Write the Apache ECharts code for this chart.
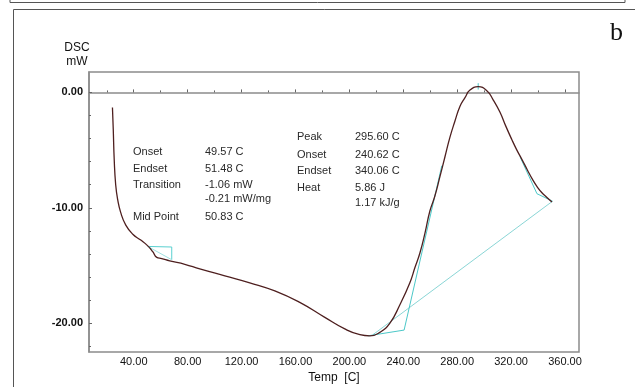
<!DOCTYPE html>
<html>
<head>
<meta charset="utf-8">
<script src="https://cdn.jsdelivr.net/npm/echarts@6/dist/echarts.min.js"></script>
<style>
  html, body { margin: 0; padding: 0; background: #fff; }
  #chart { width: 635px; height: 387px; }
</style>
</head>
<body>
<div id="chart"></div>
<script>
// DSC heating trace: temperature (C) and heat flow (mW)
const curveTemp = [24.2, 24.8, 25.5, 26.6, 28.1, 30.3, 34.1, 39.3, 45.2, 50.4, 54.1, 57.1, 60.8, 66.7,
  77.9, 89.0, 107.6, 126.1, 144.7, 163.2, 181.8, 196.6, 207.8, 215.2, 222.6, 230.1, 237.5,
  244.9, 248.6, 252.4, 256.1, 259.7, 263.4, 267.2, 270.9, 274.6, 278.3, 282.1, 285.8, 289.5,
  295.6, 302.0, 306.5, 311.7, 316.0, 320.6, 324.3, 328.0, 332.0, 336.2, 339.5, 342.9, 346.6, 350.3];
const curveDsc = [-1.3, -3.2, -5.8, -8.0, -9.3, -10.4, -11.5, -12.3, -12.8, -13.3, -13.8, -14.3, -14.4, -14.6,
  -14.9, -15.3, -15.9, -16.5, -17.2, -18.2, -19.5, -20.5, -21.0, -21.1, -20.8, -20.0, -18.4,
  -16.5, -15.2, -13.9, -12.2, -10.3, -9.0, -7.3, -5.6, -3.9, -2.5, -1.2, -0.45, 0.2,
  0.5, 0.15, -0.6, -1.7, -2.9, -4.1, -5.0, -5.8, -6.7, -7.6, -8.2, -8.7, -9.1, -9.5];

// Analysis construction lines
const glassStep = [[50.4, -13.35], [68.2, -13.4], [68.2, -14.5]];
const glassDiagonal = [[50.4, -13.35], [68.2, -14.5]];
const peakBaseline = [[217.5, -21.0], [351.1, -9.4]];
const onsetTangent = [[213.7, -21.1], [240.62, -20.6], [268.6, -6.35]];
const endsetTangent = [[326.6, -5.57], [339.2, -8.78], [350.3, -9.4]];
const peakMarker = [[295.6, 0.8], [295.6, 0.25]];

// Axis ticks
const xMajorTicks = [40, 80, 120, 160, 200, 240, 280, 320, 360];
const xMinorTicks = [20, 60, 100, 140, 180, 220, 260, 300, 340];
const yMajorTicks = [0, -10, -20];
const yMinorTicks = [-2, -4, -6, -8, -12, -14, -16, -18, -22];

// Result annotations
const glassLabels = ['Onset', 'Endset', 'Transition', '', 'Mid Point'];
const glassValues = ['49.57 C', '51.48 C', '-1.06 mW', '-0.21 mW/mg', '50.83 C'];
const peakLabels = ['Peak', 'Onset', 'Endset', 'Heat', ''];
const peakValues = ['295.60 C', '240.62 C', '340.06 C', '5.86 J', '1.17 kJ/g'];

const FONT = '"Liberation Sans", Arial, sans-serif';
const curveData = curveTemp.map((t, i) => [t, curveDsc[i]]);

const chart = echarts.init(document.getElementById('chart'));

function textItem(x, y, txt, extra) {
  return Object.assign({
    type: 'text', x: x, y: y,
    style: { text: txt, font: '11px ' + FONT, fill: '#2a2a2a', textVerticalAlign: 'middle' }
  }, extra || {});
}

const graphics = [
  // surrounding frames
  { type: 'polyline', shape: { points: [[10, 0], [10, 2.5], [625, 2.5], [625, 0]] },
    style: { stroke: '#555', lineWidth: 1, fill: null } },
  { type: 'polyline', shape: { points: [[13.5, 400], [13.5, 9.5], [640, 9.5]] },
    style: { stroke: '#555', lineWidth: 1, fill: null } },
  { type: 'text', x: 610, y: 33, style: { text: 'b', font: '26px "Liberation Serif", serif', fill: '#111', textVerticalAlign: 'middle' } },
  { type: 'text', x: 77, y: 48, style: { text: 'DSC', font: '12px ' + FONT, fill: '#111', textAlign: 'center', textVerticalAlign: 'middle' } },
  { type: 'text', x: 77, y: 62, style: { text: 'mW', font: '12px ' + FONT, fill: '#111', textAlign: 'center', textVerticalAlign: 'middle' } }
];

const glassY = [152, 169, 185, 199, 217];
glassLabels.forEach((l, i) => { if (l) graphics.push(textItem(133, glassY[i], l)); });
glassValues.forEach((v, i) => graphics.push(textItem(205, glassY[i], v)));
const peakY = [137, 155, 171, 188, 203];
peakLabels.forEach((l, i) => { if (l) graphics.push(textItem(297, peakY[i], l)); });
peakValues.forEach((v, i) => graphics.push(textItem(355, peakY[i], v)));

function guide(data, color, width) {
  return {
    type: 'line', data: data, symbol: 'none', silent: true,
    lineStyle: { color: color, width: width || 1 }, z: 3
  };
}

const baseAxisX = { type: 'value', min: 6.8, max: 370.4, splitLine: { show: false } };
const baseAxisY = { type: 'value', min: -22.5, max: 1.77, splitLine: { show: false } };

chart.setOption({
  animation: false,
  backgroundColor: '#fff',
  grid: {
    left: 89, top: 72, right: 56, bottom: 35, outerBoundsMode: 'none', containLabel: false,
    show: true, borderColor: '#8c8c8c', borderWidth: 1.5, backgroundColor: 'transparent'
  },
  xAxis: [
    Object.assign({}, baseAxisX, {
      name: 'Temp  [C]', nameLocation: 'middle', nameGap: 20,
      nameTextStyle: { fontFamily: FONT, fontSize: 12, color: '#111' },
      axisLine: { show: true, lineStyle: { color: '#8c8c8c', width: 1.5 } },
      axisTick: { show: true, inside: true, length: 3, customValues: xMajorTicks, lineStyle: { color: '#666' } },
      axisLabel: { customValues: xMajorTicks, formatter: v => v.toFixed(2), fontFamily: FONT, fontSize: 11, color: '#111', margin: 4 }
    }),
    Object.assign({}, baseAxisX, {
      position: 'bottom',
      axisLine: { show: false },
      axisTick: { show: true, inside: true, length: 2, customValues: xMinorTicks, lineStyle: { color: '#666' } },
      axisLabel: { show: false }
    })
  ],
  yAxis: [
    Object.assign({}, baseAxisY, {
      axisLine: { show: true, lineStyle: { color: '#8c8c8c', width: 1.5 } },
      axisTick: { show: true, inside: true, length: 3, customValues: yMajorTicks, lineStyle: { color: '#666' } },
      axisLabel: { customValues: yMajorTicks, formatter: v => v.toFixed(2), fontFamily: FONT, fontSize: 11, fontWeight: 'bold', color: '#111', margin: 6 }
    }),
    Object.assign({}, baseAxisY, {
      position: 'left',
      axisLine: { show: false },
      axisTick: { show: true, inside: true, length: 2, customValues: yMinorTicks, lineStyle: { color: '#666' } },
      axisLabel: { show: false }
    })
  ],
  graphic: graphics,
  series: [
    guide(glassStep, '#5ad0d0'),
    guide(glassDiagonal, '#9fe0e0'),
    guide(peakBaseline, '#8ad6d6'),
    guide(onsetTangent, '#4cc8c8'),
    guide(endsetTangent, '#4cc8c8'),
    guide(peakMarker, '#4cc8c8'),
    {
      type: 'line', data: curveData, symbol: 'none', smooth: 0.5,
      lineStyle: { color: '#4e1f1f', width: 1.3 }, z: 4
    }
  ]
});
</script>
</body>
</html>
